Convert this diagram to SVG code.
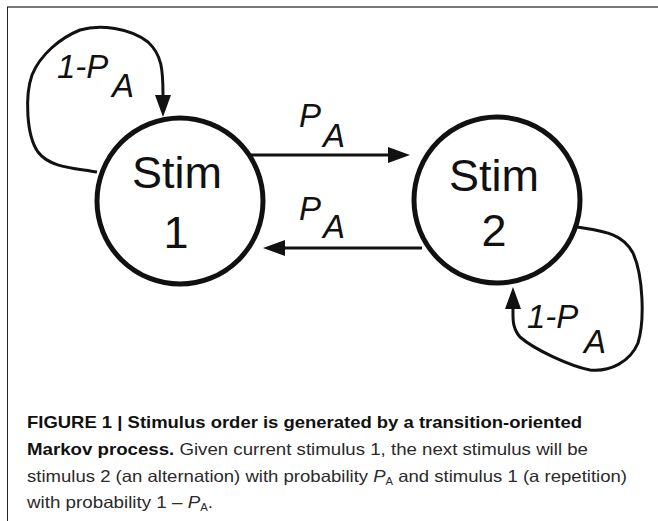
<svg xmlns="http://www.w3.org/2000/svg" width="658" height="521" viewBox="0 0 658 521">
<defs>
<marker id="ah" markerUnits="userSpaceOnUse" markerWidth="24" markerHeight="18" refX="0" refY="8" orient="auto" overflow="visible">
<path d="M0,0 L22,8 L0,16 Z" fill="#111"/>
</marker>
<style>
.node{fill:#fff;stroke:#111;stroke-width:5}
.nl{font-family:"Liberation Sans",Arial,sans-serif;font-size:45px;fill:#111;text-anchor:middle}
.edge{fill:none;stroke:#111;stroke-width:3;marker-end:url(#ah)}
.el{font-family:"Liberation Sans",Arial,sans-serif;font-style:italic;font-size:33px;fill:#111}
.cap{font-family:"Liberation Sans",Arial,sans-serif;font-size:16.5px;fill:#2a2a2a}
.b{font-weight:bold;fill:#111}
</style>
</defs>
<rect x="0" y="0" width="658" height="521" fill="#fff"/>
<line x1="7" y1="7" x2="658" y2="7" stroke="#777" stroke-width="2"/>
<line x1="7.5" y1="7" x2="7.5" y2="521" stroke="#222" stroke-width="1"/>
<g id="connectors">
<path class="edge" d="M250,155 H388"/>
<path class="edge" d="M422,248 H285"/>
<path class="edge" d="M97,172 C75,168 50,168 38,152 C26,135 25,95 32,75 C40,55 60,38 80,30 C100,24 130,28 148,42 C162,55 163,70 163,95"/>
<path class="edge" d="M577,227 C600,231 622,232 633,253 C643,275 645,320 638,343 C630,362 610,372 590,370 C570,366 535,350 520,337 C512,328 513,318 513,309"/>
<text class="el" x="299" y="127">P</text><text class="el" x="323" y="147">A</text>
<text class="el" x="299" y="220">P</text><text class="el" x="323" y="238">A</text>
<text class="el" x="57" y="78">1-P</text><text class="el" x="112" y="97">A</text>
<text class="el" x="527" y="328">1-P</text><text class="el" x="584" y="353">A</text>
</g>
<g id="stim1">
<circle class="node" cx="180" cy="201" r="83"/>
<text class="nl" x="177" y="188">Stim</text>
<text class="nl" x="176" y="248">1</text>
</g>
<g id="stim2">
<circle class="node" cx="497" cy="200" r="83"/>
<text class="nl" x="494" y="191">Stim</text>
<text class="nl" x="494" y="246">2</text>
</g>
<g id="caption">
<text class="cap b" x="27" y="428" textLength="555" lengthAdjust="spacingAndGlyphs">FIGURE 1 | Stimulus order is generated by a transition-oriented</text>
<text class="cap" x="27" y="455" textLength="561" lengthAdjust="spacingAndGlyphs"><tspan class="b">Markov process.</tspan> Given current stimulus 1, the next stimulus will be</text>
<text class="cap" x="27" y="482" textLength="600" lengthAdjust="spacingAndGlyphs">stimulus 2 (an alternation) with probability <tspan font-style="italic">P</tspan><tspan font-size="10" dy="3">A</tspan><tspan dy="-3"> and stimulus 1 (a repetition)</tspan></text>
<text class="cap" x="27" y="508" textLength="186" lengthAdjust="spacingAndGlyphs">with probability 1 – <tspan font-style="italic">P</tspan><tspan font-size="10" dy="3">A</tspan><tspan dy="-3">.</tspan></text>
</g>
</svg>
